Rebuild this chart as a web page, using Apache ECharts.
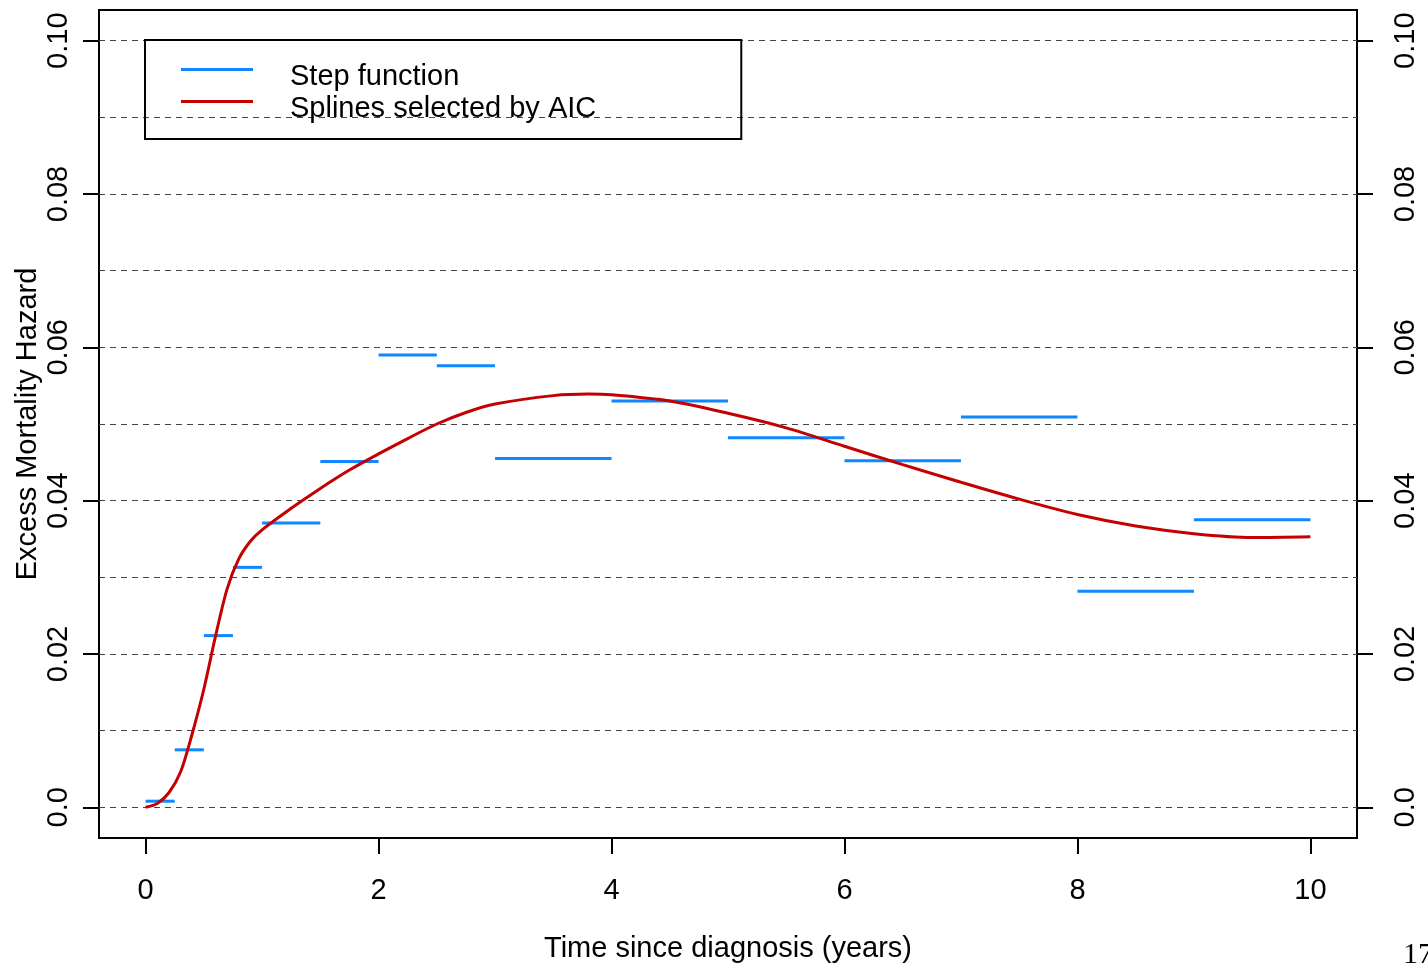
<!DOCTYPE html>
<html>
<head>
<meta charset="utf-8">
<script src="https://cdn.jsdelivr.net/npm/echarts@6/dist/echarts.min.js"></script>
<style>
html,body{margin:0;padding:0;background:#fff;}
#chart{width:1428px;height:965px;}
</style>
</head>
<body>
<div id="chart"></div>
<script>
// ---- data ----
const xTicks = [0, 2, 4, 6, 8, 10];
const yTicks = [0, 0.02, 0.04, 0.06, 0.08, 0.10];
const yTickLabels = ['0.0', '0.02', '0.04', '0.06', '0.08', '0.10'];
const gridLevels = [0, 0.01, 0.02, 0.03, 0.04, 0.05, 0.06, 0.07, 0.08, 0.09, 0.10];

const stepStart = [0, 0.25, 0.5, 0.75, 1, 1.5, 2, 2.5, 3, 4, 5, 6, 7, 8, 9];
const stepEnd   = [0.25, 0.5, 0.75, 1, 1.5, 2, 2.5, 3, 4, 5, 6, 7, 8, 9, 10];
const stepHazard = [0.0008, 0.0075, 0.0224, 0.0313, 0.0371, 0.0451, 0.0590, 0.0576,
                    0.0455, 0.0530, 0.0482, 0.0452, 0.0509, 0.0282, 0.0375];

const splineTime = [0, 0.1, 0.2, 0.3, 0.4, 0.5, 0.6, 0.7, 0.8, 0.9, 1.0, 1.25, 1.5, 1.75,
                    2.0, 2.25, 2.5, 2.75, 3.0, 3.5, 3.8, 4.0, 4.5, 5.0, 5.5, 6.0, 6.5,
                    7.0, 7.5, 8.0, 8.5, 9.0, 9.5, 10.0];
const splineHazard = [0.0000, 0.0005, 0.0019, 0.0046, 0.0096, 0.0154, 0.0223, 0.0285,
                      0.0324, 0.0347, 0.0362, 0.0390, 0.0416, 0.0440, 0.0461, 0.0481,
                      0.0500, 0.0515, 0.0526, 0.0537, 0.0539, 0.0538, 0.0530, 0.0514,
                      0.0495, 0.0471, 0.0447, 0.0424, 0.0402, 0.0382, 0.0367, 0.0357,
                      0.0352, 0.0353];

const seriesNames = ['Step function', 'Splines selected by AIC'];
const xTitle = 'Time since diagnosis (years)';
const yTitle = 'Excess Mortality Hazard';
const pageNumber = '17';

// ---- styles ----
const BLUE = '#0F87FF';
const RED = '#C40000';
const FONT = "'Liberation Sans', Arial, sans-serif";
const FS = 29;

function yLabel(v) {
  for (let i = 0; i < yTicks.length; i++) {
    if (Math.abs(yTicks[i] - v) < 1e-9) return yTickLabels[i];
  }
  return '';
}

const stepData = stepStart.map((s, i) => [s, stepEnd[i], stepHazard[i]]);
const splineData = splineTime.map((t, i) => [t, splineHazard[i]]);

const tickStyle = { show: true, inside: false, length: 16, lineStyle: { color: '#000', width: 2 } };
const hiddenLine = { show: false, onZero: false };

const chart = echarts.init(document.getElementById('chart'), null, { renderer: 'canvas' });
chart.setOption({
  animation: false,
  backgroundColor: '#fff',
  grid: {
    left: 99, right: 71, top: 10, bottom: 127,
    containLabel: false,
    outerBoundsMode: 'none',
    show: true, borderColor: '#000', borderWidth: 2, backgroundColor: 'transparent'
  },
  legend: {
    orient: 'vertical',
    left: 145, top: 40,
    borderColor: '#000', borderWidth: 2, borderRadius: 0,
    padding: [8, 145, 16, 36],
    itemGap: -11,
    itemWidth: 72, itemHeight: 3,
    formatter: '{t|{name}}',
    textStyle: {
      fontFamily: FONT, fontSize: FS, color: '#000',
      rich: { t: { fontFamily: FONT, fontSize: FS, color: '#000', lineHeight: 29, padding: [14, 0, 0, 32] } }
    },
    data: [
      { name: seriesNames[0], icon: 'rect', itemStyle: { color: BLUE } },
      { name: seriesNames[1], icon: 'rect', itemStyle: { color: RED } }
    ],
    selectedMode: false
  },
  xAxis: {
    type: 'value', min: -0.4, max: 10.4,
    position: 'bottom',
    axisLine: hiddenLine,
    axisTick: Object.assign({ customValues: xTicks }, tickStyle),
    axisLabel: { customValues: xTicks, fontFamily: FONT, fontSize: FS, color: '#000', margin: 38, formatter: v => String(v) },
    splitLine: { show: false },
    name: xTitle, nameLocation: 'middle', nameGap: 96,
    nameTextStyle: { fontFamily: FONT, fontSize: FS, color: '#000' }
  },
  yAxis: [
    {
      type: 'value', min: -0.004, max: 0.104, position: 'left',
      axisLine: hiddenLine,
      axisTick: Object.assign({ customValues: yTicks }, tickStyle),
      axisLabel: { customValues: yTicks, rotate: 90, fontFamily: FONT, fontSize: FS, color: '#000', margin: 26, formatter: yLabel },
      splitLine: { show: false },
      name: yTitle, nameLocation: 'middle', nameRotate: 90, nameGap: 57,
      nameMoveOverlap: false,
      nameTextStyle: { fontFamily: FONT, fontSize: FS, color: '#000' }
    },
    {
      type: 'value', min: -0.004, max: 0.104, position: 'right',
      axisLine: hiddenLine,
      axisTick: Object.assign({ customValues: yTicks }, tickStyle),
      axisLabel: { customValues: yTicks, rotate: 90, fontFamily: FONT, fontSize: FS, color: '#000', margin: 34, formatter: yLabel },
      splitLine: { show: false }
    },
    {
      type: 'value', min: -0.004, max: 0.104, position: 'left',
      axisLine: hiddenLine,
      axisTick: { show: false, customValues: gridLevels },
      axisLabel: { show: false },
      splitLine: { show: true, lineStyle: { color: '#444', width: 1, type: [6, 5] } }
    }
  ],
  series: [
    {
      name: seriesNames[0],
      type: 'custom',
      yAxisIndex: 0,
      itemStyle: { color: BLUE },
      encode: { x: [0, 1], y: 2 },
      data: stepData,
      z: 3,
      renderItem: function (params, api) {
        const p0 = api.coord([api.value(0), api.value(2)]);
        const p1 = api.coord([api.value(1), api.value(2)]);
        return {
          type: 'line',
          shape: { x1: p0[0], y1: p0[1], x2: p1[0], y2: p1[1] },
          style: { stroke: BLUE, lineWidth: 3 }
        };
      }
    },
    {
      name: seriesNames[1],
      type: 'line',
      yAxisIndex: 0,
      data: splineData,
      showSymbol: false,
      smooth: 0.3,
      itemStyle: { color: RED },
      lineStyle: { color: RED, width: 3 },
      z: 4
    }
  ],
  graphic: [
    {
      type: 'text', left: 1403, top: 940,
      style: { text: pageNumber, fontFamily: "'Liberation Serif', serif", fontSize: 30, fill: '#000' }
    }
  ]
});
</script>
</body>
</html>
